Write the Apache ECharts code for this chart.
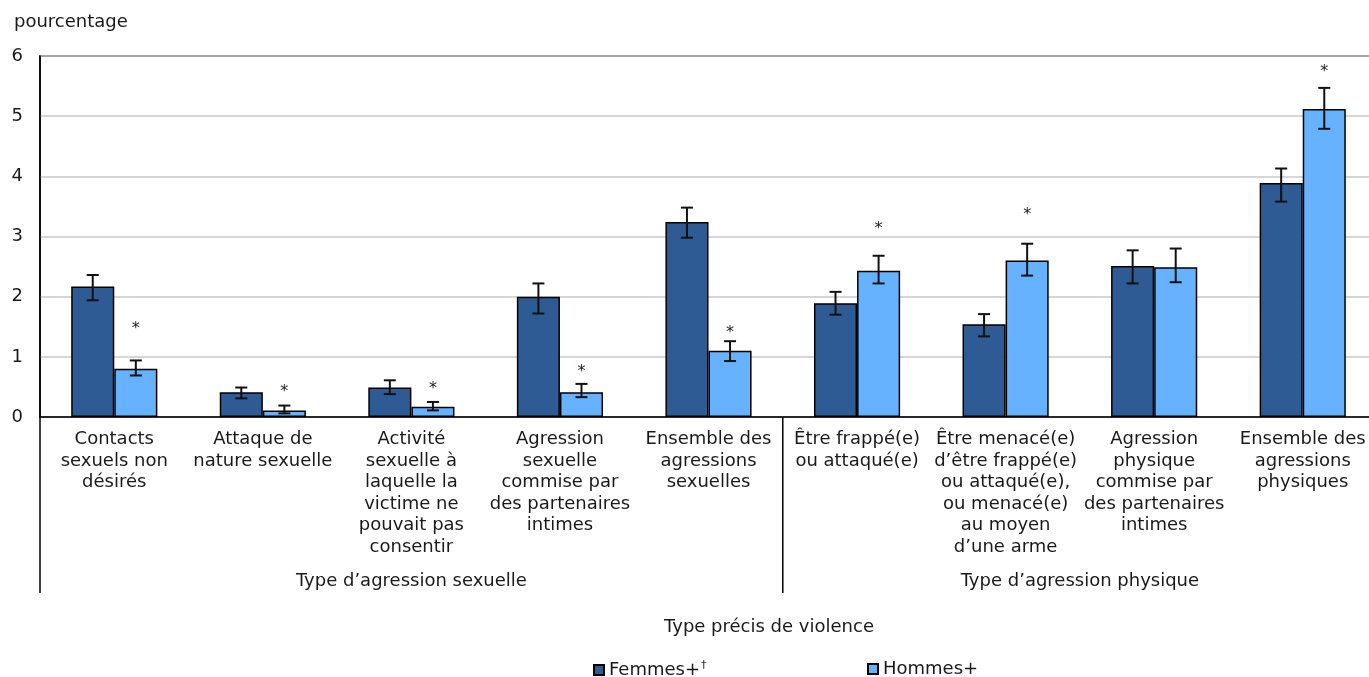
<!DOCTYPE html>
<html>
<head>
<meta charset="utf-8">
<script src="https://cdn.jsdelivr.net/npm/echarts@6/dist/echarts.min.js"></script>
<style>
  html, body { margin: 0; padding: 0; background: #fff; }
  #main { width: 1369px; height: 677px; }
</style>
</head>
<body>
<div id="main"></div>
<script>
// catégories (avec retours à la ligne comme dans la figure)
var categories = [
  'Contacts\nsexuels non\ndésirés',
  'Attaque de\nnature sexuelle',
  'Activité\nsexuelle à\nlaquelle la\nvictime ne\npouvait pas\nconsentir',
  'Agression\nsexuelle\ncommise par\ndes partenaires\nintimes',
  'Ensemble des\nagressions\nsexuelles',
  'Être frappé(e)\nou attaqué(e)',
  'Être menacé(e)\nd’être frappé(e)\nou attaqué(e),\nou menacé(e)\nau moyen\nd’une arme',
  'Agression\nphysique\ncommise par\ndes partenaires\nintimes',
  'Ensemble des\nagressions\nphysiques'
];
var groupLabels = ['Type d’agression sexuelle', 'Type d’agression physique'];
var groupSizes = [5, 4];

var femmes     = [2.17, 0.41, 0.49, 2.00, 3.24, 1.89, 1.54, 2.51, 3.89];
var femmesLow  = [1.94, 0.31, 0.38, 1.72, 2.98, 1.70, 1.34, 2.22, 3.58];
var femmesHigh = [2.36, 0.49, 0.61, 2.22, 3.48, 2.08, 1.71, 2.77, 4.13];
var hommes     = [0.80, 0.11, 0.17, 0.41, 1.10, 2.43, 2.60, 2.49, 5.12];
var hommesLow  = [0.69, 0.06, 0.11, 0.33, 0.93, 2.22, 2.35, 2.24, 4.79];
var hommesHigh = [0.94, 0.19, 0.25, 0.55, 1.26, 2.68, 2.88, 2.80, 5.47];
// hauteur des astérisques (différence significative), null = aucun
var starY = [1.53, 0.49, 0.54, 0.82, 1.47, 3.20, 3.42, null, 5.80];

var yMin = 0, yMax = 6, yStep = 1;

var FONT = 'DejaVu Sans';
var FS = 18;
var TXT = '#1a1a1a';
var BAR_FRAC = 0.29;

function errData(low, high) {
  var arr = [];
  for (let i = 0; i < low.length; i++) arr.push([i, low[i], high[i]]);
  return arr;
}

function errRender(side) {
  return function (params, api) {
    var i = api.value(0);
    var hi = api.coord([i, api.value(2)]);
    var lo = api.coord([i, api.value(1)]);
    var catW = api.size([1, 0])[0];
    var x = hi[0] + side * catW * BAR_FRAC / 2;
    var cap = 6;
    var st = { stroke: '#111', lineWidth: 2 };
    return {
      type: 'group',
      children: [
        { type: 'line', shape: { x1: x, y1: hi[1], x2: x, y2: lo[1] }, style: st },
        { type: 'line', shape: { x1: x - cap, y1: hi[1], x2: x + cap, y2: hi[1] }, style: st },
        { type: 'line', shape: { x1: x - cap, y1: lo[1], x2: x + cap, y2: lo[1] }, style: st }
      ]
    };
  };
}

var starData = [];
starY.forEach(function (v, i) { if (v !== null) starData.push([i, v]); });

var chartDom = document.getElementById('main');
var myChart = echarts.init(chartDom, null, { renderer: 'canvas' });
var option;

option = {
  backgroundColor: '#fff',
  animation: false,
  textStyle: { fontFamily: FONT, color: TXT },
  title: {
    text: 'pourcentage',
    left: 9, top: 8,
    textStyle: { fontFamily: FONT, fontSize: FS, fontWeight: 'normal', color: TXT }
  },
  legend: [
    {
      data: ['Femmes+'],
      left: 588, top: 655,
      icon: 'rect',
      itemWidth: 10, itemHeight: 10, itemGap: 0,
      formatter: function (name) { return name + '{d|†}'; },
      textStyle: {
        fontFamily: FONT, fontSize: FS, color: TXT,
        rich: { d: { fontFamily: FONT, fontSize: 11, color: TXT, padding: [0, 0, 9, 1] } }
      }
    },
    {
      data: ['Hommes+'],
      left: 862, top: 655,
      icon: 'rect',
      itemWidth: 10, itemHeight: 10,
      textStyle: { fontFamily: FONT, fontSize: FS, color: TXT }
    }
  ],
  grid: {
    left: 40, top: 56, width: 1337, height: 361,
    outerBoundsMode: 'none',
    show: true, borderColor: '#000', borderWidth: 1.5,
    containLabel: false
  },
  xAxis: {
    type: 'category',
    data: categories,
    axisLine: { lineStyle: { color: '#000', width: 1.5 } },
    axisTick: { show: false },
    axisLabel: {
      interval: 0, margin: 12,
      fontFamily: FONT, fontSize: FS, lineHeight: 21.5, color: TXT, align: 'center'
    }
  },
  yAxis: {
    type: 'value',
    min: yMin, max: yMax, interval: yStep,
    axisLine: { show: true, lineStyle: { color: '#000', width: 1.5 } },
    axisTick: { show: false },
    axisLabel: { margin: 17, fontFamily: FONT, fontSize: FS, color: TXT },
    splitLine: { lineStyle: { color: '#c8c8c8', width: 1.5 } }
  },
  series: [
    {
      name: 'Femmes+',
      type: 'bar',
      data: femmes,
      barWidth: (BAR_FRAC * 100) + '%',
      barGap: '0%',
      itemStyle: { color: '#2e5b94', borderColor: '#000', borderWidth: 1.5 },
      z: 2
    },
    {
      name: 'Hommes+',
      type: 'bar',
      data: hommes,
      barWidth: (BAR_FRAC * 100) + '%',
      barGap: '0%',
      itemStyle: { color: '#66b2fe', borderColor: '#000', borderWidth: 1.5 },
      z: 2
    },
    {
      name: 'errF',
      type: 'custom',
      data: errData(femmesLow, femmesHigh),
      encode: { x: 0, y: [1, 2] },
      renderItem: errRender(-1),
      z: 4
    },
    {
      name: 'errH',
      type: 'custom',
      data: errData(hommesLow, hommesHigh),
      encode: { x: 0, y: [1, 2] },
      renderItem: errRender(1),
      z: 4
    },
    {
      name: 'stars',
      type: 'custom',
      data: starData,
      encode: { x: 0, y: 1 },
      renderItem: function (params, api) {
        var p = api.coord([api.value(0), api.value(1)]);
        var catW = api.size([1, 0])[0];
        return {
          type: 'text',
          style: {
            x: p[0] + catW * BAR_FRAC / 2, y: p[1] + 4,
            text: '*', align: 'center', verticalAlign: 'middle',
            fontFamily: FONT, fontSize: 16, fill: '#222'
          }
        };
      },
      z: 4
    }
  ]
};

option && myChart.setOption(option);

// lignes de séparation et libellés des groupes
var y0 = myChart.convertToPixel({ yAxisIndex: 0 }, 0);
var xs = categories.map(function (c, i) { return myChart.convertToPixel({ xAxisIndex: 0 }, i); });
var step = xs[1] - xs[0];
var gfx = [];
var lineBottom = 593;
var start = 0;
gfx.push({ type: 'line', shape: { x1: xs[0] - step / 2, y1: y0, x2: xs[0] - step / 2, y2: lineBottom },
  style: { stroke: '#000', lineWidth: 1.5 } });
groupSizes.forEach(function (n, g) {
  var left = xs[start] - step / 2;
  var right = xs[start + n - 1] + step / 2;
  gfx.push({
    type: 'text', x: (left + right) / 2, y: 581,
    style: { text: groupLabels[g], align: 'center', verticalAlign: 'middle',
      fontFamily: FONT, fontSize: FS, fill: TXT }
  });
  if (g < groupSizes.length - 1) {
    gfx.push({ type: 'line', shape: { x1: right, y1: y0, x2: right, y2: lineBottom },
      style: { stroke: '#000', lineWidth: 1.5 } });
  }
  start += n;
});
gfx.push({
  type: 'text', x: 769, y: 627,
  style: { text: 'Type précis de violence', align: 'center', verticalAlign: 'middle',
    fontFamily: FONT, fontSize: FS, fill: TXT }
});
myChart.setOption({ graphic: gfx });
</script>
</body>
</html>
